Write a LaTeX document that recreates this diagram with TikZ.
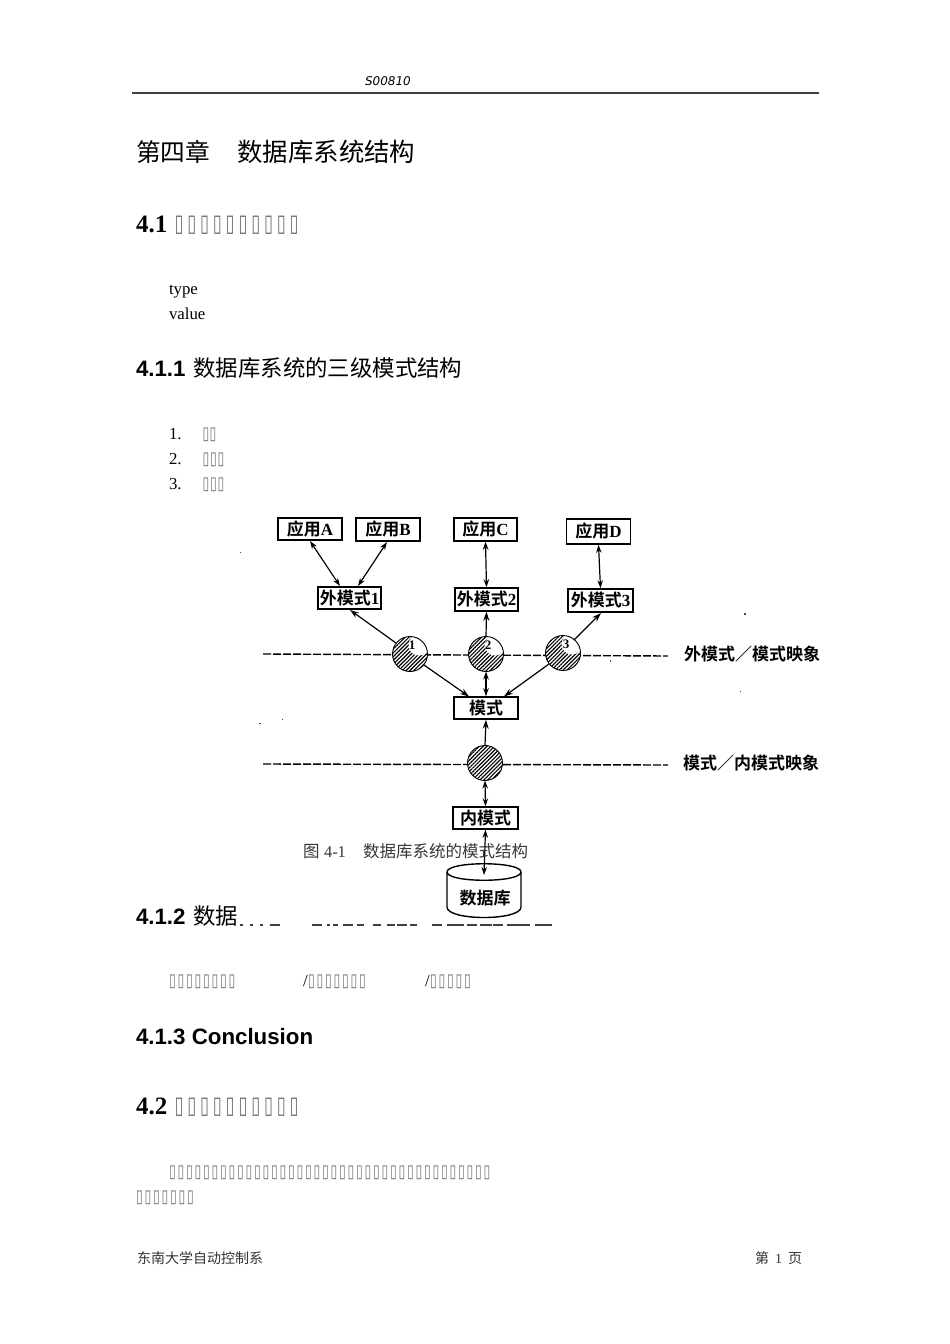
\documentclass[tikz,border=0pt]{standalone}
\usepackage{fontspec}
\usepackage{graphicx}
\usetikzlibrary{arrows.meta,patterns.meta}
\setmainfont{Liberation Serif}
\newfontfamily\cjk{Noto Sans CJK SC}
\newfontfamily\cjkb{Noto Sans CJK SC}[BoldFont={Noto Sans CJK SC Bold}]
\newfontfamily\hsans{Liberation Sans}
\newfontfamily\dv{DejaVu Sans}
\newfontfamily\hand{DejaVu Sans}[ItalicFont={DejaVu Sans Oblique}]
\newcommand{\fs}[1]{\fontsize{#1pt}{#1pt}\selectfont}
% a row of missing-glyph boxes: count, pitch, glyph size
\newcount\tfc
\newcommand{\tofu}[3]{{\dv\fs{#3}\color{black!55}\tfc=0 \loop\ifnum\tfc<#1 \makebox[#2pt][l]{\scalebox{0.68}[1]{▯}}\advance\tfc by 1 \repeat}}
\tikzset{
  x=1pt,y=-1pt,
  txt/.style={anchor=base west,inner sep=0pt,outer sep=0pt,text=black},
  appbox/.style={draw=black,line width=1.5pt,fill=white,inner sep=0pt,font=\cjkb\bfseries\fs{17}},
  hatchcirc/.style={circle,line width=0.9pt,minimum size=35pt,inner sep=0pt,outer sep=0pt},
  hatched/.style={pattern={Lines[angle=45,distance=2.7pt,line width=1.15pt]}},
  circlabel/.style={inner sep=0pt,font=\rmfamily\bfseries\fs{13}},
  link/.style={line width=1.2pt,draw=black},
  both/.style={link,{Stealth[length=8pt,width=5.5pt]}-{Stealth[length=8pt,width=5.5pt]}},
  toend/.style={link,-{Stealth[length=9pt,width=6pt]}},
  maprule/.style={line width=1.4pt,dash pattern=on 8pt off 2pt,draw=black},
  speck/.style={fill=black!70,draw=none},
  capt/.style={txt,font=\cjk\fs{16.5},text=black!78},
  foot/.style={txt,font=\cjk\fs{14},text=black!80},
  maplabel/.style={txt,font=\cjkb\bfseries\fs{17}},
  body/.style={txt,font=\fs{16.8}},
}
\begin{document}
\begin{tikzpicture}
\useasboundingbox[fill=white] (0,0) rectangle (950,1344);

% header
\node[txt,font=\hand\itshape\fs{12}] (hdr) at (365,85) {S00810};
\draw[line width=1.5pt,draw=black!75] (132,93) -- (819,93);
\node[txt,font=\cjk\fs{24.7}] (chap) at (136,161) {第四章};
\node[txt,font=\cjk\fs{25.4}] (chapt) at (237.5,161) {数据库系统结构};

% 4.1
\node[txt,font=\bfseries\fs{25}] (s41) at (136,232) {4.1};
\node[txt] (s41t) at (174.5,231) {\tofu{10}{12.8}{24}};
\node[body] (ty) at (169,294) {type};
\node[body] (va) at (169,319) {value};

% 4.1.1
\node[txt,font=\hsans\bfseries\fs{22.3}] (s411) at (136,376) {4.1.1};
\node[txt,font=\cjk\fs{22.4}] (s411t) at (193.5,376) {数据库系统的三级模式结构};
\node[body] (l1) at (169,439) {1.};
\node[txt] (l1t) at (202.5,439) {\tofu{2}{7.2}{18}};
\node[body] (l2) at (169,464) {2.};
\node[txt] (l2t) at (202.5,464) {\tofu{3}{7.6}{18}};
\node[body] (l3) at (169,489) {3.};
\node[txt] (l3t) at (202.5,489) {\tofu{3}{7.6}{18}};

% mapping rules
\coordinate (m1l) at (263,654);
\coordinate (m1r) at (668,656);
\coordinate (m2l) at (263,764);
\coordinate (m2r) at (668,765);
\draw[maprule] (m1l) -- (m1r);
\draw[maprule] (m2l) -- (m2r);

% boxes
\node[appbox,minimum width=64pt,minimum height=22pt] (appA) at (310,529) {应用{\rmfamily A}};
\node[appbox,minimum width=64pt,minimum height=23pt] (appB) at (388,529.5) {应用{\rmfamily B}};
\node[appbox,minimum width=63pt,minimum height=23pt] (appC) at (485.5,529.5) {应用{\rmfamily C}};
\node[appbox,minimum width=64pt,minimum height=25pt] (appD) at (598.5,531.5) {应用{\rmfamily D}};
\node[appbox,minimum width=63pt,minimum height=22pt] (ext1) at (349.5,598) {外模式{\rmfamily 1}};
\node[appbox,minimum width=63pt,minimum height=23pt] (ext2) at (486.5,599.5) {外模式{\rmfamily 2}};
\node[appbox,minimum width=65pt,minimum height=23pt] (ext3) at (600.5,600.5) {外模式{\rmfamily 3}};
\node[appbox,minimum width=64pt,minimum height=22pt] (conc) at (486,708) {模式};
\node[appbox,minimum width=65pt,minimum height=22pt] (inner) at (485.5,818) {内模式};

% hatched circles
\node[hatchcirc,fill=white] (c1) at (410,654) {};
\node[hatchcirc,fill=white] (c2) at (486,654) {};
\node[hatchcirc,fill=white] (c3) at (563,653) {};
\node[hatchcirc,fill=white] (c4) at (485,763) {};
\fill[hatched] (c1.center) circle[radius=17.5];
\fill[hatched] (c2.center) circle[radius=17.5];
\fill[hatched] (c3.center) circle[radius=17.5];
\fill[hatched] (c4.center) circle[radius=17.5];
% the pale top of circles 1-3 around their numbers
\begin{scope}
\clip (c1.center) circle[radius=17.5];
\fill[white] (419,645) circle[radius=10.5];
\end{scope}
\begin{scope}
\clip (c2.center) circle[radius=17.5];
\fill[white] (495,645) circle[radius=10.5];
\end{scope}
\begin{scope}
\clip (c3.center) circle[radius=17.5];
\fill[white] (572,644) circle[radius=10.5];
\end{scope}
\draw[line width=0.9pt] (c1.center) circle[radius=17.5];
\draw[line width=0.9pt] (c2.center) circle[radius=17.5];
\draw[line width=0.9pt] (c3.center) circle[radius=17.5];
\draw[line width=0.9pt] (c4.center) circle[radius=17.5];
\node[circlabel] (n1) at (412,645) {1};
\node[circlabel] (n2) at (488,645) {2};
\node[circlabel] (n3) at (566,644) {3};

% database cylinder
\path[draw=black,line width=1.4pt,fill=white]
  (447,872) .. controls (447,861) and (521,861) .. (521,872) -- (521,907)
  .. controls (521,921) and (447,921) .. (447,907) -- cycle;
\draw[line width=1.4pt] (447,872) .. controls (447,883) and (521,883) .. (521,872);
\node[inner sep=0pt,font=\cjkb\bfseries\fs{17}] (dbt) at (485,898) {数据库};
\coordinate (dbin) at (484,875);

% connectors
\coordinate (aA) at (310,541);
\coordinate (e1A) at (340,586);
\coordinate (aB) at (387,542);
\coordinate (e1B) at (358,586);
\draw[both] (aA) -- (e1A);
\draw[both] (aB) -- (e1B);
\draw[both] (appC.south) -- (ext2.north);
\draw[both] (appD.south) -- (ext3.north);
\coordinate (e1c) at (350,610);
\coordinate (c1a) at (396,643);
\draw[toend] (c1a) -- (e1c);
\draw[toend] (c2.north) -- (ext2.south);
\coordinate (e3c) at (601,613);
\coordinate (c3a) at (574,640);
\draw[toend] (c3a) -- (e3c);
\coordinate (c1b) at (424,665);
\coordinate (mA) at (469,696.5);
\draw[toend] (c1b) -- (mA);
\draw[both] (c2.south) -- (conc.north);
\coordinate (c3b) at (549,664);
\coordinate (mC) at (504,696.5);
\draw[toend] (c3b) -- (mC);
\draw[toend] (c4.north) -- (conc.south);
\draw[both] (inner.north) -- (c4.south);
\draw[both] (dbin) -- (inner.south);

% caption over the arrow
\node[capt] (capt1) at (303,857) {图};
\node[txt,font=\fs{16.5},text=black!80] (capt2) at (324,857) {4-1};
\node[capt] (capt3) at (363,857) {数据库系统的模式结构};

% mapping labels
\node[maplabel] (lab1) at (684,660) {外模式／模式映象};
\node[maplabel] (lab2) at (683,769) {模式／内模式映象};

% specks
\fill[speck] (239.5,551.5) rectangle +(1.5,1.5);
\fill[speck] (259,723) rectangle +(1.5,1);
\fill[speck] (281.5,718.5) rectangle +(1.5,1);
\fill[speck] (743.5,613) rectangle +(2,2);
\fill[speck] (739.5,690.5) rectangle +(1.5,1.5);
\fill[speck] (609.5,660) rectangle +(1.5,1.5);

% 4.1.2
\node[txt,font=\hsans\bfseries\fs{22.3}] (s412) at (136,924) {4.1.2};
\node[txt,font=\cjk\fs{22.4}] (s412t) at (193.5,924) {数据};
\draw[line width=1.2pt,draw=black!75] (240,925) -- +(2.5,0) (250,925) -- +(2.5,0) (260,925) -- +(3,0) (270,925) -- +(10,0)
 (312,925) -- +(10,0) (327,925) -- +(3,0) (333,925) -- +(5,0) (343,925) -- +(10,0) (357,925) -- +(7,0) (373,925) -- +(8,0)
 (387,925) -- +(8,0) (397,925) -- +(10,0) (410,925) -- +(7,0) (432,925) -- +(10,0) (447,925) -- +(17,0) (467,925) -- +(10,0)
 (480,925) -- +(12,0) (493,925) -- +(10,0) (507,925) -- +(23,0) (535,925) -- +(17,0);

\node[txt] (b1) at (169,986) {\tofu{8}{8.5}{18}};
\node[txt,font=\fs{16.8}] (b2) at (303,986) {/};
\node[txt] (b3) at (308,986) {\tofu{7}{8.5}{18}};
\node[txt,font=\fs{16.8}] (b4) at (425,986) {/};
\node[txt] (b5) at (430,986) {\tofu{5}{8.5}{18}};

% 4.1.3, 4.2
\node[txt,font=\hsans\bfseries\fs{22.3}] (s413) at (136,1044) {4.1.3 Conclusion};
\node[txt,font=\bfseries\fs{25}] (s42) at (136,1114) {4.2};
\node[txt] (s42t) at (174.5,1113) {\tofu{10}{12.8}{24}};
\node[txt] (p1) at (169,1177) {\tofu{38}{8.5}{18}};
\node[txt] (p2) at (136,1202) {\tofu{7}{8.5}{18}};

% footer
\node[foot] (f1) at (137,1263) {东南大学自动控制系};
\node[foot] (f2) at (755,1263) {第\hspace{6pt}{\rmfamily 1}\hspace{6pt}页};
\end{tikzpicture}
\end{document}
